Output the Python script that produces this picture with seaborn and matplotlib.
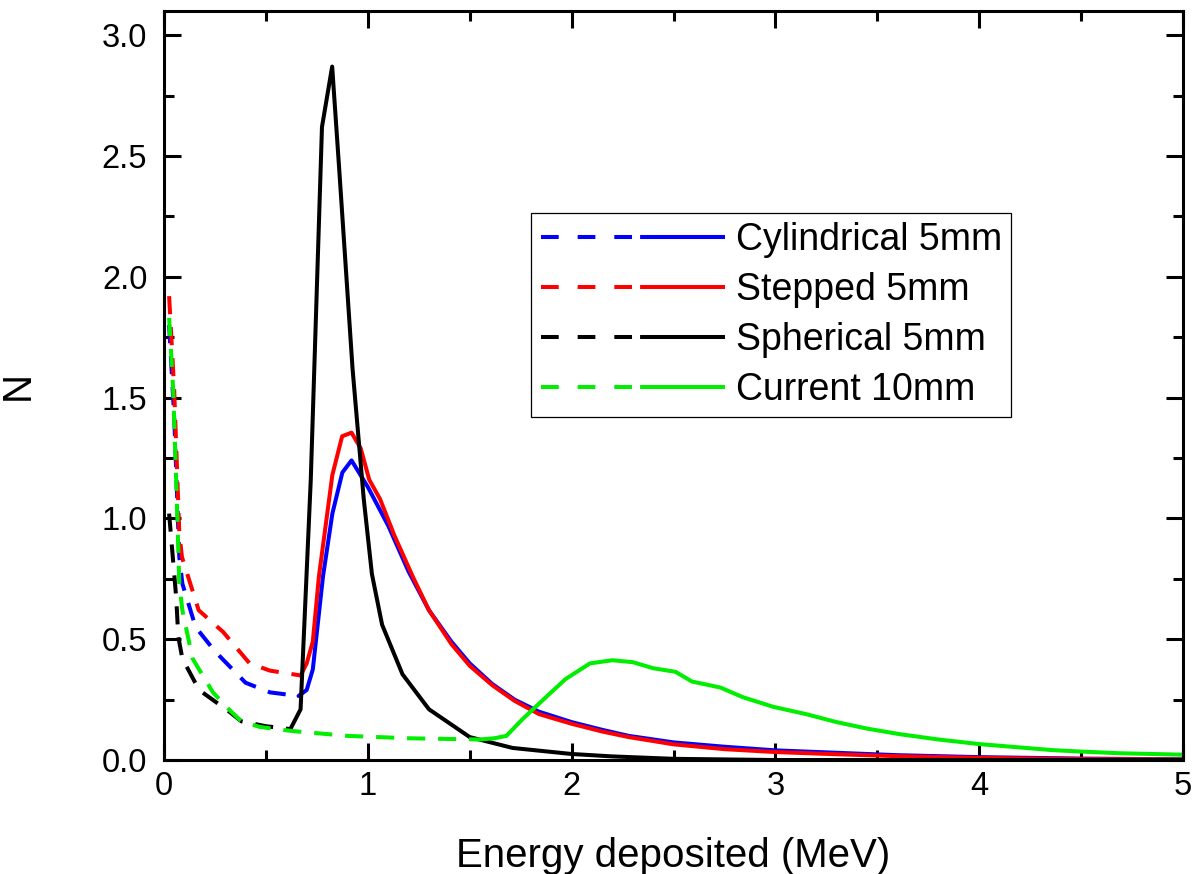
import matplotlib
matplotlib.use("Agg")
import matplotlib.pyplot as plt
from matplotlib.lines import Line2D
from matplotlib.ticker import MultipleLocator
import seaborn as sns
import pandas as pd

# ---------------- data ----------------
labels = ["Cylindrical 5mm", "Stepped 5mm", "Spherical 5mm", "Current 10mm"]
colors = ["#0000ff", "#ff0000", "#000000", "#00ee00"]

cyl_dash_x = [0.025, 0.05, 0.075, 0.09, 0.155, 0.25, 0.40, 0.52, 0.66]
cyl_dash_y = [1.80, 1.42, 0.84, 0.73, 0.55, 0.45, 0.32, 0.28, 0.265]
cyl_x = [0.66, 0.70, 0.73, 0.78, 0.826, 0.875, 0.92, 1.0, 1.1, 1.2, 1.3, 1.41, 1.5,
         1.61, 1.72, 1.84, 2.0, 2.15, 2.28, 2.5, 2.75, 3.0, 3.3, 3.6, 4.0, 4.5, 5.0]
cyl_y = [0.265, 0.29, 0.375, 0.76, 1.02, 1.19, 1.24, 1.13, 0.97, 0.78, 0.62, 0.49, 0.40,
         0.315, 0.25, 0.20, 0.157, 0.125, 0.10, 0.073, 0.055, 0.04, 0.03, 0.02, 0.012, 0.006, 0.003]

stp_dash_x = [0.025, 0.05, 0.075, 0.088, 0.17, 0.29, 0.42, 0.52, 0.67]
stp_dash_y = [1.92, 1.53, 0.94, 0.84, 0.62, 0.53, 0.40, 0.37, 0.35]
stp_x = [0.67, 0.70, 0.73, 0.76, 0.826, 0.874, 0.92, 0.965, 1.007, 1.06, 1.13, 1.22, 1.3,
         1.41, 1.5, 1.61, 1.72, 1.84, 2.0, 2.15, 2.28, 2.5, 2.75, 3.0, 3.3, 3.6, 4.0, 4.5, 5.0]
stp_y = [0.35, 0.40, 0.49, 0.76, 1.18, 1.34, 1.355, 1.29, 1.16, 1.08, 0.93, 0.76, 0.62,
         0.48, 0.39, 0.31, 0.245, 0.19, 0.15, 0.118, 0.095, 0.065, 0.045, 0.033, 0.024,
         0.016, 0.009, 0.004, 0.002]

sph_dash_x = [0.025, 0.04, 0.06, 0.07, 0.09, 0.172, 0.32, 0.38, 0.50, 0.62]
sph_dash_y = [1.02, 0.87, 0.67, 0.51, 0.42, 0.29, 0.20, 0.16, 0.14, 0.128]
sph_x = [0.62, 0.67, 0.72, 0.775, 0.825, 0.86, 0.925, 0.98, 1.02, 1.07, 1.17, 1.30,
         1.50, 1.71, 2.0, 2.2, 2.5, 3.0, 4.0, 5.0]
sph_y = [0.128, 0.21, 1.16, 2.62, 2.87, 2.44, 1.62, 1.08, 0.77, 0.56, 0.355, 0.21,
         0.095, 0.05, 0.025, 0.015, 0.005, 0.0, 0.0, 0.0]

cur_dash_x = [0.025, 0.045, 0.06, 0.07, 0.075, 0.09, 0.14, 0.24, 0.33, 0.38, 0.47,
              0.63, 0.9, 1.2, 1.55]
cur_dash_y = [1.83, 1.53, 1.15, 0.87, 0.73, 0.62, 0.42, 0.28, 0.20, 0.16, 0.137,
              0.12, 0.10, 0.09, 0.085]
cur_x = [1.55, 1.62, 1.68, 1.76, 1.88, 1.97, 2.09, 2.2, 2.3, 2.4, 2.51, 2.59, 2.73,
         2.84, 2.99, 3.15, 3.3, 3.45, 3.61, 3.8, 4.0, 4.2, 4.36, 4.5, 4.69, 4.85, 5.0]
cur_y = [0.085, 0.09, 0.10, 0.17, 0.265, 0.335, 0.40, 0.413, 0.405, 0.38, 0.365, 0.325,
         0.30, 0.26, 0.22, 0.19, 0.157, 0.13, 0.107, 0.085, 0.066, 0.052, 0.041, 0.035,
         0.028, 0.025, 0.022]

x_ticks = [0, 1, 2, 3, 4, 5]
y_ticks = [0.0, 0.5, 1.0, 1.5, 2.0, 2.5, 3.0]

series = [
    (cyl_dash_x, cyl_dash_y, cyl_x, cyl_y),
    (stp_dash_x, stp_dash_y, stp_x, stp_y),
    (sph_dash_x, sph_dash_y, sph_x, sph_y),
    (cur_dash_x, cur_dash_y, cur_x, cur_y),
]

# ---------------- style ----------------
sns.set_style("ticks")
plt.rcParams["font.family"] = ["Liberation Sans", "DejaVu Sans"]
plt.rcParams["axes.linewidth"] = 2.2
plt.rcParams["text.color"] = "black"
plt.rcParams["axes.labelcolor"] = "black"
plt.rcParams["xtick.color"] = "black"
plt.rcParams["ytick.color"] = "black"

fig = plt.figure(figsize=(11.99, 8.74), dpi=100)
ax = fig.add_axes([0.1368, 0.1304, 0.9867 - 0.1368, 0.9874 - 0.1304])

LW = 2.9
dash_style = (0, (4.5, 3.2))
for (dx, dy, sx, sy), c in zip(series, colors):
    d_df = pd.DataFrame({"x": dx, "y": dy})
    s_df = pd.DataFrame({"x": sx, "y": sy})
    sns.lineplot(data=d_df, x="x", y="y", ax=ax, color=c, lw=LW, sort=False,
                 estimator=None, linestyle=dash_style)
    sns.lineplot(data=s_df, x="x", y="y", ax=ax, color=c, lw=LW, sort=False,
                 estimator=None, linestyle="-")

ax.set_xlim(0, 5)
ax.set_ylim(0, 3.1)
ax.set_xticks(x_ticks)
ax.set_xticklabels([str(t) for t in x_ticks])
ax.set_yticks(y_ticks)
ax.set_yticklabels([f"{t:.1f}" for t in y_ticks])
ax.xaxis.set_minor_locator(MultipleLocator(0.5))
ax.yaxis.set_minor_locator(MultipleLocator(0.25))
ax.tick_params(which="both", direction="in", top=True, right=True, width=2.2,
               colors="black")
ax.tick_params(which="major", length=12, labelsize=23.5, pad=8)
ax.tick_params(which="minor", length=7)
ax.tick_params(axis="y", which="major", pad=12)
for sp in ax.spines.values():
    sp.set_visible(True)
    sp.set_color("black")

ax.set_xlabel("Energy deposited (MeV)", fontsize=29, labelpad=25)
ax.set_ylabel("N", fontsize=29)
ax.yaxis.set_label_coords(-0.125, 0.5)

handles = [Line2D([], [], color=c, lw=LW,
                  linestyle=(0, (4.4, 4.7, 4.4, 4.7, 4.4, 2.0, 60, 1)))
           for c in colors]
leg = ax.legend(handles, labels, loc="upper left", bbox_to_anchor=(0.3605, 0.7307),
                borderaxespad=0, fontsize=27, handlelength=4.9, handletextpad=0.3,
                labelspacing=0.37, borderpad=0.25, frameon=True, fancybox=False,
                framealpha=1, edgecolor="black")
leg.get_frame().set_linewidth(0.9)

fig.savefig("out.png", dpi=100)
